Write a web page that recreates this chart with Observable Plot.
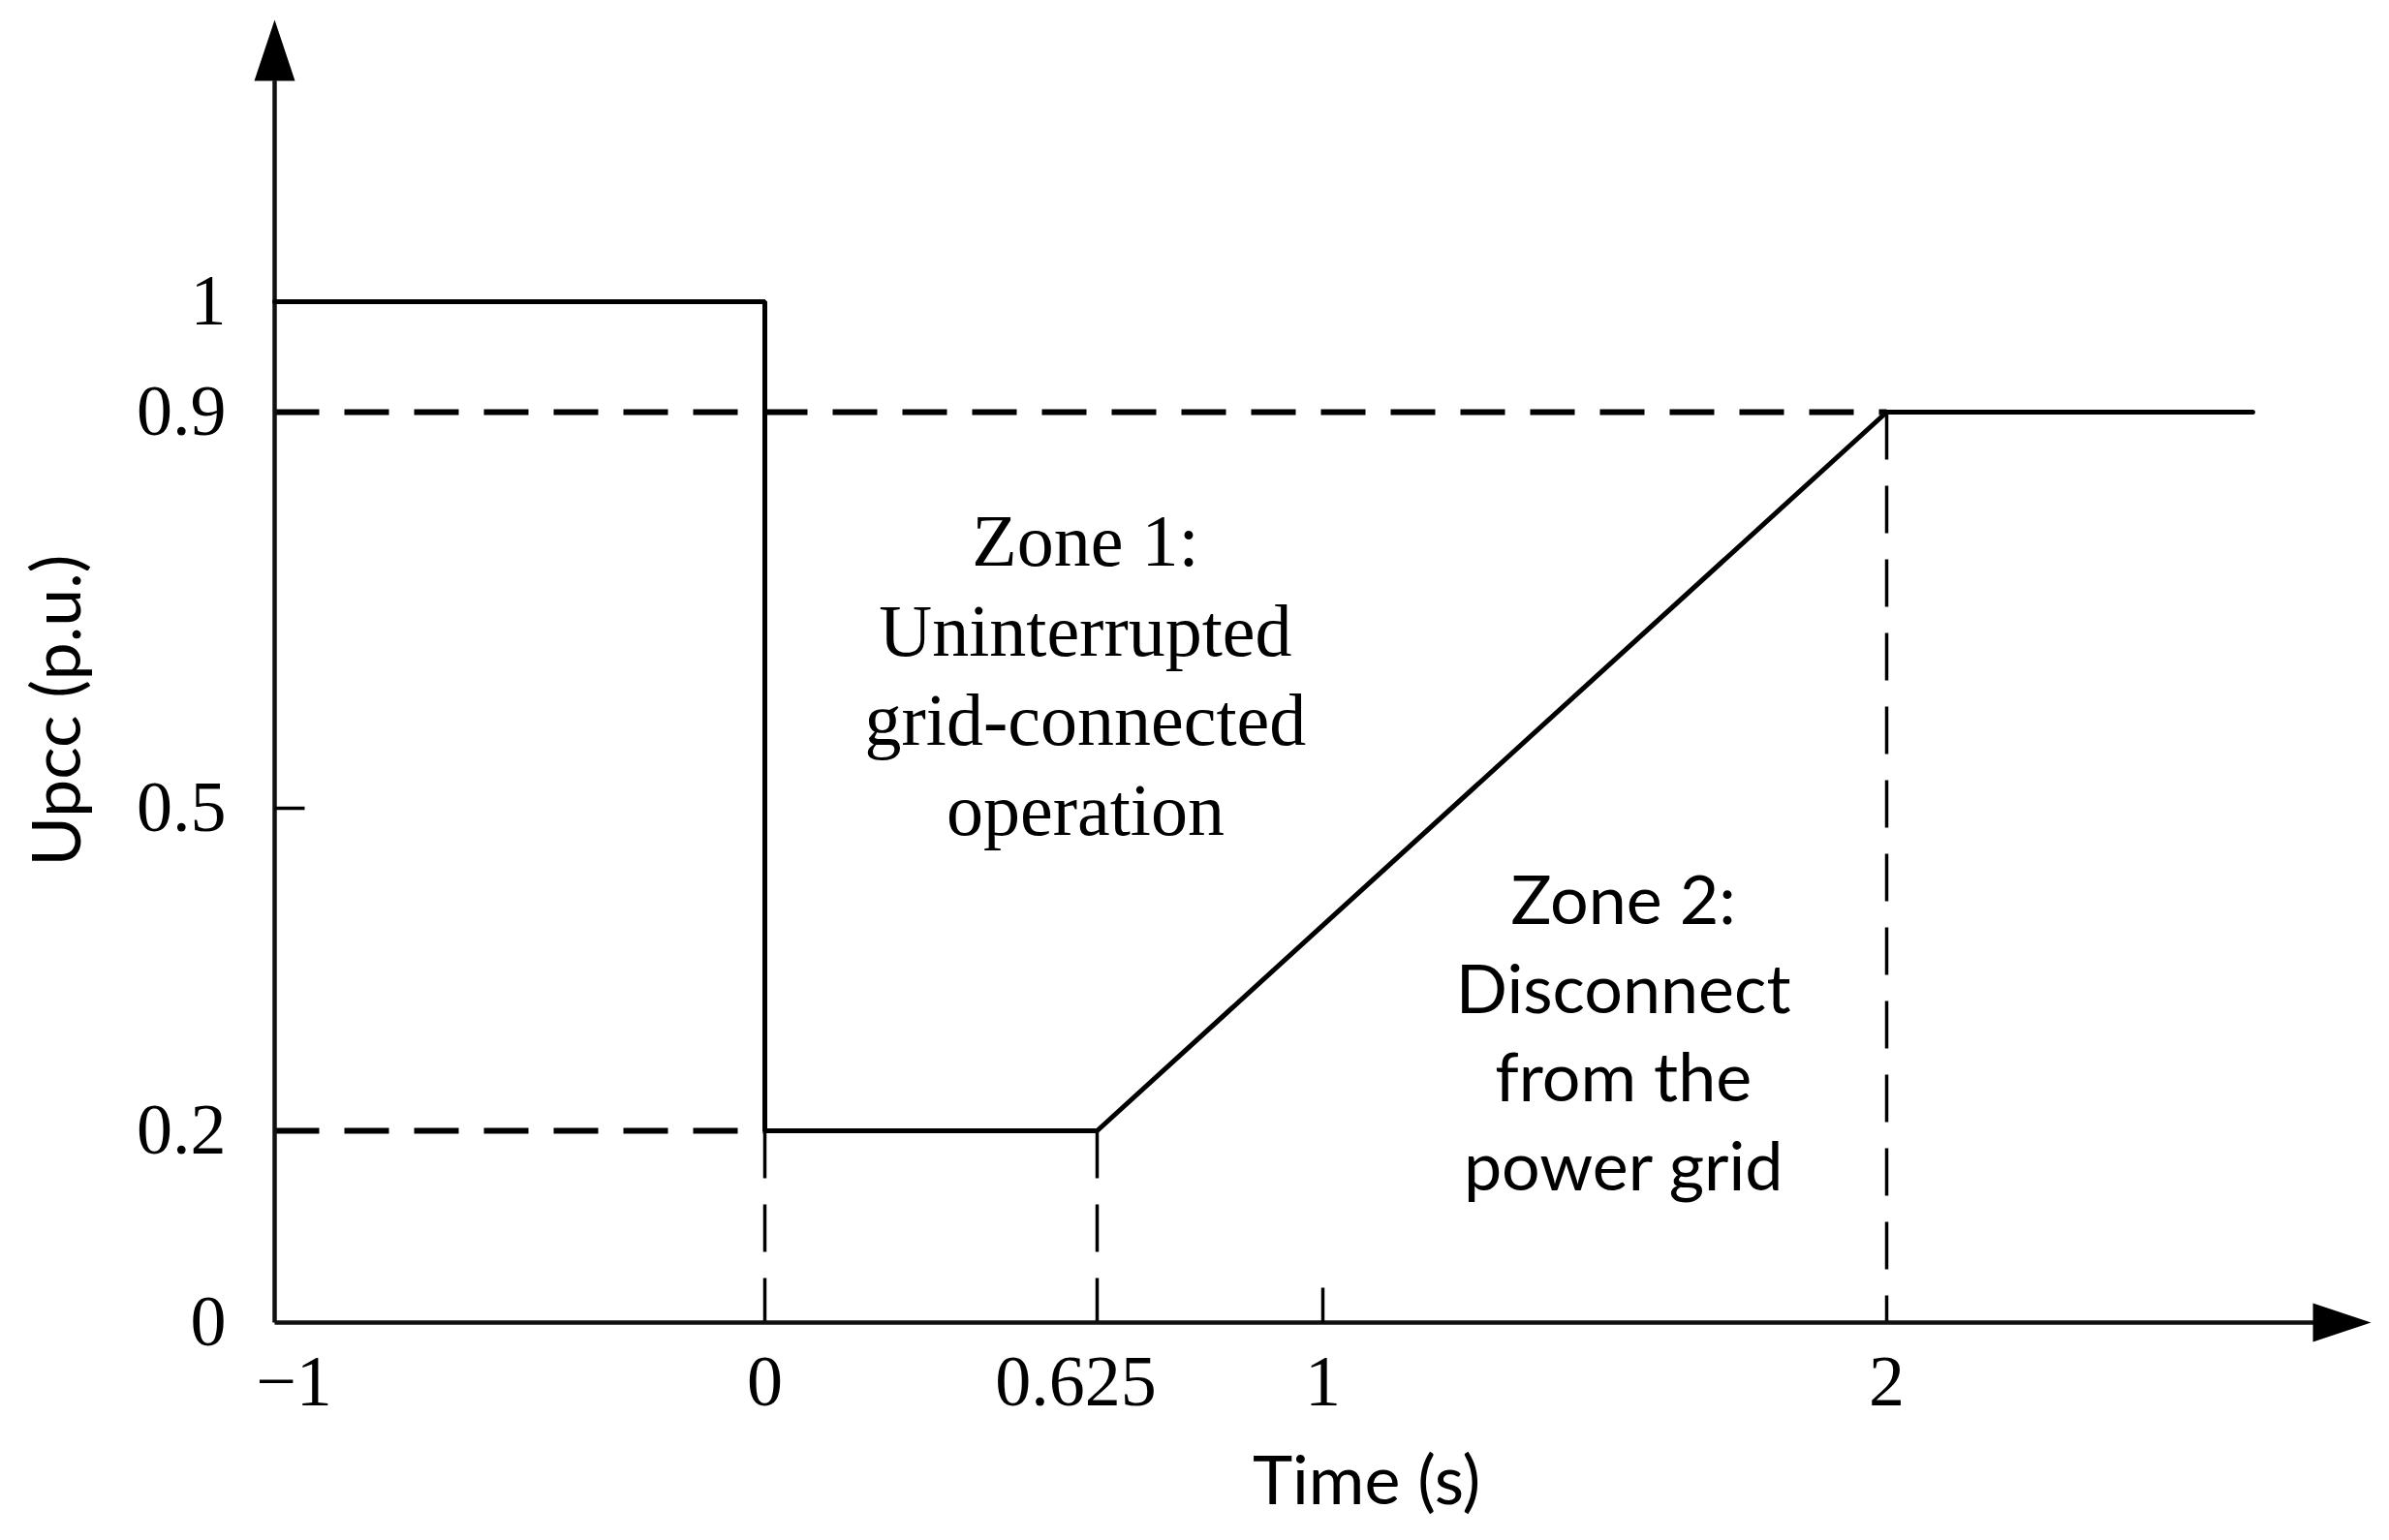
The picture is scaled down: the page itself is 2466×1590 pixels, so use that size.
<!DOCTYPE html>
<html>
<head>
<meta charset="utf-8">
<script src="https://cdn.jsdelivr.net/npm/d3@7"></script>
<script src="https://cdn.jsdelivr.net/npm/@observablehq/plot@0.6"></script>
<style>
  html, body { margin: 0; padding: 0; background: #fff; }
  #chart svg { display: block; }
</style>
</head>
<body>
<div id="chart"></div>
<script>
// ---- data ----
// characteristic curve of Upcc (p.u.) vs time (s)
const curveTime  = [-1, 0, 0, 0.625, 2, 2.65];
const curveUpcc  = [1, 1, 0.2, 0.2, 0.9, 0.9];

// dashed reference lines (horizontal)
const hGuideY    = [0.9, 0.2];
const hGuideFrom = [-1, -1];
const hGuideTo   = [2, 0];

// dashed reference lines (vertical)
const vGuideX    = [0, 0.625, 2];
const vGuideTop  = [0.2, 0.2, 0.9];

// tick labels
const xTickValues = [-1, 0, 0.625, 1, 2];
const xTickLabels = ["\u22121", "0", "0.625", "1", "2"];
const yTickValues = [0, 0.2, 0.5, 0.9, 1];
const yTickLabels = ["0", "0.2", "0.5", "0.9", "1"];

// small tick marks on axes
const xTickMarks = [1];
const yTickMarks = [0.5];

// axis extents (data units)
const xAxisStart = -1, xAxisEnd = 2.78, xAxisTip = 2.86;
const yAxisStart = 0,  yAxisEnd = 1.2,  yAxisTip = 1.255;

// zone annotations
const zoneText = [
  "Zone 1:\nUninterrupted\ngrid-connected\noperation",
  "Zone 2:\nDisconnect\nfrom the\npower grid"
];
const zoneTime = [0.603, 1.533];
const zoneUpcc = [0.638, 0.295];

const xTitle = "Time (s)";
const yTitle = "Upcc (p.u.)";

// ---- build tables ----
const curve = curveTime.map((t, i) => ({t, u: curveUpcc[i]}));
const hGuides = hGuideY.map((u, i) => ({x1: hGuideFrom[i], x2: hGuideTo[i], y: u}));
const vGuides = vGuideX.map((t, i) => ({x: t, y1: vGuideTop[i], y2: 0}));
const xTicks = xTickValues.map((v, i) => ({v, label: xTickLabels[i]}));
const yTicks = yTickValues.map((v, i) => ({v, label: yTickLabels[i]}));

// ---- custom glyphs (style only) ----
const arrowUp = {draw(ctx) { ctx.moveTo(0, 0); ctx.lineTo(-21, 63); ctx.lineTo(21, 63); ctx.closePath(); }};
const arrowRight = {draw(ctx) { ctx.moveTo(0, 0); ctx.lineTo(-60, -20); ctx.lineTo(-60, 20); ctx.closePath(); }};
const tickUp = {draw(ctx) { ctx.moveTo(0, 0); ctx.lineTo(0, -36); }};
const tickRight = {draw(ctx) { ctx.moveTo(0, 0); ctx.lineTo(31, 0); }};

const serif = "'Liberation Serif', 'Times New Roman', serif";
const sans = "Lato, 'Open Sans', sans-serif";

const xLabelStyle = {x: "v", y: 0, text: "label", dy: 62, fontSize: 74, fontFamily: serif, fill: "#000", lineAnchor: "middle"};

const chart = Plot.plot({
  width: 2466,
  height: 1590,
  margin: 0,
  style: {background: "#fff", overflow: "visible"},
  x: {type: "linear", axis: null, domain: [-1, 0, 0.625, 1, 2, 2.86], range: [283, 789, 1132, 1365, 1947, 2447]},
  y: {type: "linear", axis: null, domain: [0, 0.2, 0.5, 0.9, 1, 1.255], range: [1365, 1167, 834, 425, 311, 20]},
  marks: [
    // dashed guides
    Plot.link(hGuides, {x1: "x1", x2: "x2", y1: "y", y2: "y", stroke: "#000", strokeWidth: 6, strokeDasharray: "46,26"}),
    Plot.link(vGuides, {x1: "x", x2: "x", y1: "y1", y2: "y2", stroke: "#000", strokeWidth: 3.5, strokeDasharray: "49,27"}),
    // axes
    Plot.link([0], {x1: xAxisStart, x2: xAxisEnd, y1: d => d, y2: d => d, stroke: "#111", strokeWidth: 4.5}),
    Plot.link([-1], {x1: d => d, x2: d => d, y1: yAxisStart, y2: yAxisEnd, stroke: "#111", strokeWidth: 4.5}),
    Plot.dot([xAxisTip], {x: d => d, y: 0, symbol: arrowRight, fill: "#000", stroke: "none", r: 10}),
    Plot.dot([yAxisTip], {x: -1, y: d => d, symbol: arrowUp, fill: "#000", stroke: "none", r: 10}),
    Plot.dot(xTickMarks, {x: d => d, y: 0, symbol: tickUp, fill: "none", stroke: "#000", strokeWidth: 3.5, r: 10}),
    Plot.dot(yTickMarks, {x: -1, y: d => d, symbol: tickRight, fill: "none", stroke: "#000", strokeWidth: 3.5, r: 10}),
    // main curve
    Plot.line(curve, {x: "t", y: "u", stroke: "#000", strokeWidth: 5, strokeLinejoin: "miter", curve: "linear"}),
    // tick labels
    Plot.text(xTicks.filter(d => d.v < 0), {...xLabelStyle, dx: 20}),
    Plot.text(xTicks.filter(d => d.v === 0.625), {...xLabelStyle, dx: -22}),
    Plot.text(xTicks.filter(d => d.v >= 0 && d.v !== 0.625), xLabelStyle),
    Plot.text(yTicks, {x: -1, y: "v", text: "label", dx: -50, textAnchor: "end", fontSize: 74, fontFamily: serif, fill: "#000", lineAnchor: "middle"}),
    // zone annotations
    Plot.text([0], {x: zoneTime[0], y: zoneUpcc[0], text: () => zoneText[0], fontSize: 76, fontFamily: serif, lineHeight: 1.22, fill: "#000", lineAnchor: "middle"}),
    Plot.text([1], {x: zoneTime[1], y: zoneUpcc[1], text: () => zoneText[1], fontSize: 70, fontFamily: sans, lineHeight: 1.31, fill: "#000", lineAnchor: "middle"}),
    // axis titles
    Plot.text([xTitle], {frameAnchor: "top-left", dx: 1410, dy: 1530, text: d => d, textAnchor: "middle", fontSize: 70, fontFamily: sans, fill: "#000", lineAnchor: "middle"}),
    Plot.text([yTitle], {frameAnchor: "top-left", dx: 60, dy: 733, rotate: -90, text: d => d, textAnchor: "middle", fontSize: 70, fontFamily: sans, fill: "#000", lineAnchor: "middle"})
  ]
});
document.getElementById("chart").appendChild(chart);
</script>
</body>
</html>
